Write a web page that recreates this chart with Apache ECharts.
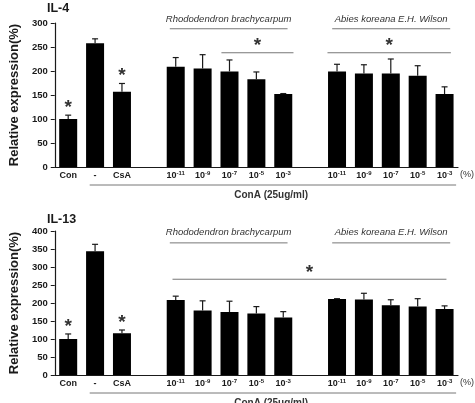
<!DOCTYPE html>
<html>
<head>
<meta charset="utf-8">
<script src="https://cdn.jsdelivr.net/npm/echarts@6/dist/echarts.min.js"></script>
<style>
  html, body { margin: 0; padding: 0; background: #fff; }
  #chart { width: 475px; height: 403px; }
</style>
</head>
<body>
<div id="chart"></div>
<script>
// x categories: controls, gap, Rhododendron doses, gap, Abies doses (exponent of 10)
const groups = ['Con', '-', 'CsA', '', '-11', '-9', '-7', '-5', '-3', '', '-11', '-9', '-7', '-5', '-3']

// IL-4 mean / SD (%)
const il4Mean = [100, 258, 157, null, 209, 205, 199, 183, 152, null, 199, 195, 195, 190, 152]
const il4Sd = [8, 9, 17, null, 19, 29, 24, 15, 1, null, 15, 18, 30, 21, 15]
const il4Stars = [0, 2]

// IL-13 mean / SD (%)
const il13Mean = [100, 344, 116, null, 208, 179, 175, 171, 160, null, 211, 210, 194, 190, 183]
const il13Sd = [14, 19, 9, null, 11, 27, 30, 19, 16, null, 1, 17, 15, 22, 9]
const il13Stars = [0, 2]

const il4Ticks = [0, 300, 50]
const il13Ticks = [0, 400, 50]

// significance brackets: [from, to, value]  (from/to in category units)
const il4Sig = [[5.7, 8.38, 238], [9.645, 14.235, 238]]
const il13Sig = [[3.88, 14.07, 266]]

// species headers: [from, to, lineValue, textValue]
const speciesNames = ['Rhododendron brachycarpum', 'Abies koreana E.H. Wilson']
const il4Species = [[3.78, 8.16, 288, 308], [9.82, 14.21, 288, 308]]
const il13Species = [[3.78, 8.16, 367, 397], [9.82, 14.21, 367, 397]]

// ConA bracket below axis [from, to, textCenter]
const conA = [0.8, 14.43, 7.55]

const font = '"Liberation Sans", Arial, sans-serif'
const ink = '#1a1a1a'
const starFont = 'bold 19px ' + font

function xAt (api, f) {
  const i = Math.round(f)
  const band = api.coord([1, 0])[0] - api.coord([0, 0])[0]
  return api.coord([i, 0])[0] + (f - i) * band
}

function errItem (stars) {
  return function (params, api) {
    const i = api.value(0)
    const p = api.coord([i, api.value(1)])
    const q = api.coord([i, api.value(1) + api.value(2)])
    const style = { stroke: ink, lineWidth: 1.2 }
    const children = [
      { type: 'line', shape: { x1: p[0], y1: p[1], x2: q[0], y2: q[1] }, style: style },
      { type: 'line', shape: { x1: q[0] - 3, y1: q[1], x2: q[0] + 3, y2: q[1] }, style: style }
    ]
    if (stars.indexOf(i) >= 0) {
      children.push({
        type: 'text',
        style: { text: '*', x: q[0], y: q[1] + 2, align: 'center', verticalAlign: 'bottom', font: starFont, fill: '#333' }
      })
    }
    return { type: 'group', children: children }
  }
}

function errData (mean, sd) {
  const out = []
  mean.forEach((m, i) => { if (m != null) out.push([i, m, sd[i]]) })
  return out
}

function annoItem (sig, species) {
  return function (params, api) {
    if (params.dataIndex > 0) return null
    const lineStyle = { stroke: '#777', lineWidth: 1 }
    const children = []
    sig.forEach(s => {
      const x1 = xAt(api, s[0])
      const x2 = xAt(api, s[1])
      const y = api.coord([0, s[2]])[1]
      children.push({ type: 'line', shape: { x1: x1, y1: y, x2: x2, y2: y }, style: lineStyle })
      children.push({ type: 'text', style: { text: '*', x: (x1 + x2) / 2, y: y + 3, align: 'center', verticalAlign: 'bottom', font: starFont, fill: '#333' } })
    })
    species.forEach((s, k) => {
      const x1 = xAt(api, s[0])
      const x2 = xAt(api, s[1])
      const yl = api.coord([0, s[2]])[1]
      const yt = api.coord([0, s[3]])[1]
      children.push({ type: 'line', shape: { x1: x1, y1: yl, x2: x2, y2: yl }, style: lineStyle })
      children.push({ type: 'text', style: { text: speciesNames[k], x: (x1 + x2) / 2, y: yt, align: 'center', verticalAlign: 'middle', font: 'italic 9.5px ' + font, fill: '#333' } })
    })
    const y0 = api.coord([0, 0])[1]
    children.push({ type: 'line', shape: { x1: xAt(api, conA[0]), y1: y0 + 18, x2: xAt(api, conA[1]), y2: y0 + 18 }, style: lineStyle })
    children.push({ type: 'text', style: { text: 'ConA (25ug/ml)', x: xAt(api, conA[2]), y: y0 + 28, align: 'center', verticalAlign: 'middle', font: 'bold 10px ' + font, fill: '#333' } })
    return { type: 'group', children: children }
  }
}

function xAxisOpt (gridIndex) {
  return {
    type: 'category',
    gridIndex: gridIndex,
    data: groups,
    axisLine: { lineStyle: { color: ink, width: 1.2 } },
    axisTick: { show: false },
    name: '(%)',
    nameLocation: 'end',
    nameGap: 2,
    nameTextStyle: { color: '#333', fontSize: 9, fontFamily: font, verticalAlign: 'top', padding: [3, 0, 0, 0] },
    axisLabel: {
      interval: 0,
      margin: 3,
      formatter: function (v) {
        if (v.charAt(0) === '-' && v.length > 1) return '{b|10}{s|' + v + '}'
        return '{b|' + v + '}'
      },
      rich: {
        b: { fontSize: 9, fontWeight: 'bold', fontFamily: font, color: ink, lineHeight: 12 },
        s: { fontSize: 6, fontWeight: 'bold', fontFamily: font, color: ink, verticalAlign: 'top' }
      }
    }
  }
}

function yAxisOpt (gridIndex, ticks) {
  return {
    type: 'value',
    gridIndex: gridIndex,
    min: ticks[0],
    max: ticks[1],
    interval: ticks[2],
    splitLine: { show: false },
    axisLine: { show: true, lineStyle: { color: ink, width: 1.2 } },
    axisTick: { show: true, length: 4, lineStyle: { color: ink } },
    axisLabel: { margin: 7, fontSize: 9.5, fontWeight: 'bold', fontFamily: font, color: ink },
    name: 'Relative expression(%)',
    nameLocation: 'middle',
    nameGap: 33,
    nameTextStyle: { fontSize: 13, fontWeight: 'bold', fontFamily: font, color: ink }
  }
}

const chart = echarts.init(document.getElementById('chart'))
chart.setOption({
  animation: false,
  title: [
    { text: 'IL-4', left: 47, top: 2, padding: 0, textStyle: { fontSize: 12.5, fontWeight: 'bold', fontFamily: font, color: ink } },
    { text: 'IL-13', left: 47, top: 213, padding: 0, textStyle: { fontSize: 12.5, fontWeight: 'bold', fontFamily: font, color: ink } }
  ],
  grid: [
    { left: 46, right: 15, top: 23, height: 144 },
    { left: 46, right: 15, top: 231, height: 144 }
  ],
  xAxis: [xAxisOpt(0), xAxisOpt(1)],
  yAxis: [yAxisOpt(0, il4Ticks), yAxisOpt(1, il13Ticks)],
  series: [
    { name: 'IL-4', type: 'bar', xAxisIndex: 0, yAxisIndex: 0, barWidth: 18, itemStyle: { color: '#000' }, data: il4Mean },
    { name: 'IL-4 SD', type: 'custom', xAxisIndex: 0, yAxisIndex: 0, clip: false, renderItem: errItem(il4Stars), data: errData(il4Mean, il4Sd), z: 3 },
    { name: 'IL-4 notes', type: 'custom', xAxisIndex: 0, yAxisIndex: 0, clip: false, renderItem: annoItem(il4Sig, il4Species), data: [[0, 0]], z: 3 },
    { name: 'IL-13', type: 'bar', xAxisIndex: 1, yAxisIndex: 1, barWidth: 18, itemStyle: { color: '#000' }, data: il13Mean },
    { name: 'IL-13 SD', type: 'custom', xAxisIndex: 1, yAxisIndex: 1, clip: false, renderItem: errItem(il13Stars), data: errData(il13Mean, il13Sd), z: 3 },
    { name: 'IL-13 notes', type: 'custom', xAxisIndex: 1, yAxisIndex: 1, clip: false, renderItem: annoItem(il13Sig, il13Species), data: [[0, 0]], z: 3 }
  ]
})
</script>
</body>
</html>
